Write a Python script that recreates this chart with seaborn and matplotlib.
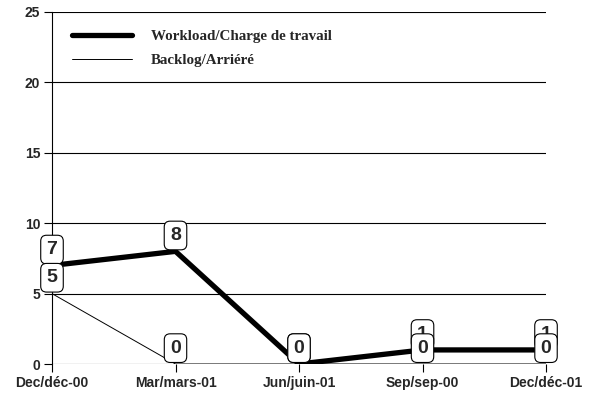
import matplotlib
matplotlib.use("Agg")
import matplotlib.pyplot as plt
import seaborn as sns
import pandas as pd

# ---------- DATA ----------
periods = ["Dec/déc-00", "Mar/mars-01", "Jun/juin-01", "Sep/sep-00", "Dec/déc-01"]
workload = [7, 8, 0, 1, 1]
backlog = [5, 0, 0, 0, 0]
series_names = ["Workload/Charge de travail", "Backlog/Arriéré"]
y_ticks = [0, 5, 10, 15, 20, 25]

df = pd.DataFrame({
    "period": periods * 2,
    "value": workload + backlog,
    "series": [series_names[0]] * len(periods) + [series_names[1]] * len(periods),
})

# ---------- STYLE ----------
sns.set_style("white")
plt.rcParams["font.family"] = ["Liberation Sans", "DejaVu Sans"]

fig = plt.figure(figsize=(5.97, 3.96), dpi=100)
ax = fig.add_axes([0.0871, 0.0808, 0.8275, 0.8889])

# ---------- LINES ----------
sns.lineplot(data=df[df["series"] == series_names[0]], x="period", y="value",
             color="black", linewidth=3.8, ax=ax, label=series_names[0], sort=False)
sns.lineplot(data=df[df["series"] == series_names[1]], x="period", y="value",
             color="black", linewidth=0.7, ax=ax, label=series_names[1], sort=False)

# ---------- AXES ----------
ax.set_xlim(0, len(periods) - 1)
ax.set_ylim(0, 25)
ax.set_yticks(y_ticks)
ax.set_xticks(range(len(periods)))
ax.set_xticklabels(periods)
ax.set_xlabel("")
ax.set_ylabel("")

for y in y_ticks:
    ax.axhline(y, color="black", linewidth=0.8, zorder=0.5)

for side in ["top", "right", "bottom"]:
    ax.spines[side].set_visible(False)
ax.spines["left"].set_color("black")
ax.spines["left"].set_linewidth(0.8)

ax.tick_params(axis="both", which="major", length=6, width=0.8, color="black",
               direction="out", bottom=True, left=True, pad=2.5)
for lab in ax.get_xticklabels() + ax.get_yticklabels():
    lab.set_fontweight("bold")
    lab.set_fontsize(10)

# ---------- VALUE LABELS ----------
box = dict(boxstyle="round,pad=0.3", fc="white", ec="black", lw=0.8)
for vals in [workload, backlog]:
    for i, v in enumerate(vals):
        ax.annotate(str(v), (i, v), xytext=(0, 5.3), textcoords="offset points",
                    ha="center", va="bottom", fontsize=14, fontweight="bold",
                    bbox=box, annotation_clip=False, zorder=5)

# ---------- LEGEND ----------
ax.legend(loc="upper left", bbox_to_anchor=(0.04, 0.95), frameon=False,
          borderaxespad=0, borderpad=0, handlelength=4.0, handletextpad=1.3,
          labelspacing=0.7,
          prop={"family": ["Liberation Serif", "DejaVu Serif"], "weight": "bold", "size": 10.8})

fig.savefig("out.png", dpi=100)
